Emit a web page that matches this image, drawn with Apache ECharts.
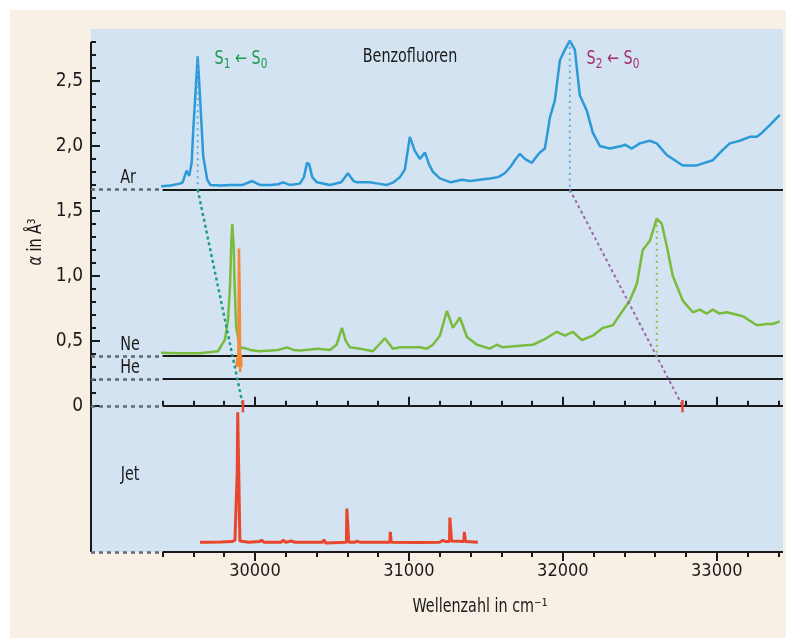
<!DOCTYPE html>
<html>
<head>
<meta charset="utf-8">
<script src="https://cdn.jsdelivr.net/npm/echarts@6/dist/echarts.min.js"></script>
<style>
  html, body { margin: 0; padding: 0; background: #ffffff; }
  #bg { position: absolute; left: 10px; top: 10px; width: 776px; height: 628px; background: #f9f0e5; }
  #chart { position: absolute; left: 0; top: 0; width: 786px; height: 638px; }
</style>
</head>
<body>
<div id="bg"></div>
<div id="chart"></div>
<script>
// x range of the plot area (wavenumber, cm^-1) and where the drawn axes begin
var xMin = 28935, xMax = 33430, axisStart = 29400;
var yMin = -1.125, yMax = 2.9, yAxisTop = 2.8;

// tick values
var xTicks = [29400, 29600, 29800, 30000, 30200, 30400, 30600, 30800, 31000, 31200, 31400,
              31600, 31800, 32000, 32200, 32400, 32600, 32800, 33000, 33200, 33400];
var xLabels = [30000, 31000, 32000, 33000];
var yTicks = [0, 0.1, 0.2, 0.3, 0.4, 0.5, 0.6, 0.7, 0.8, 0.9, 1, 1.1, 1.2, 1.3, 1.4, 1.5,
              1.6, 1.7, 1.8, 1.9, 2, 2.1, 2.2, 2.3, 2.4, 2.5, 2.6, 2.7, 2.8];
var yLabels = [0, 0.5, 1, 1.5, 2, 2.5];

// baselines: Ar, Ne, He, jet zero line, bottom line
var levels = [1.665, 0.382, 0.205, 0, -1.125];

// Ar matrix spectrum
var arSpectrum = [[29390,1.69],[29450,1.695],[29513,1.71],[29530,1.72],[29556,1.81],[29573,1.77],
  [29589,1.87],[29599,2.12],[29628,2.69],[29643,2.38],[29664,1.92],[29690,1.74],[29710,1.70],
  [29780,1.695],[29838,1.70],[29920,1.70],[29981,1.73],[30032,1.70],[30100,1.70],[30150,1.705],
  [30182,1.72],[30227,1.70],[30292,1.71],[30318,1.76],[30338,1.87],[30352,1.86],[30372,1.76],
  [30403,1.72],[30487,1.70],[30560,1.72],[30604,1.79],[30640,1.73],[30662,1.72],[30747,1.72],
  [30800,1.71],[30857,1.70],[30900,1.72],[30942,1.76],[30974,1.82],[31006,2.07],[31039,1.96],
  [31071,1.90],[31104,1.95],[31130,1.86],[31156,1.80],[31201,1.75],[31273,1.72],[31344,1.74],
  [31396,1.73],[31460,1.74],[31526,1.75],[31580,1.76],[31623,1.79],[31660,1.84],[31688,1.89],
  [31721,1.94],[31753,1.90],[31799,1.87],[31830,1.92],[31851,1.95],[31883,1.98],[31900,2.10],
  [31916,2.22],[31948,2.35],[31981,2.66],[32013,2.74],[32045,2.81],[32078,2.74],[32110,2.39],
  [32156,2.27],[32195,2.10],[32240,2.00],[32305,1.98],[32383,2.00],[32403,2.01],[32448,1.98],
  [32500,2.02],[32565,2.04],[32610,2.02],[32675,1.93],[32727,1.89],[32779,1.85],[32870,1.85],
  [32974,1.89],[33039,1.97],[33084,2.02],[33149,2.04],[33214,2.07],[33260,2.07],[33292,2.10],
  [33344,2.16],[33409,2.24]];

// Ne matrix spectrum
var neSpectrum = [[29390,0.408],[29500,0.405],[29643,0.405],[29760,0.42],[29805,0.51],[29825,0.66],
  [29838,0.92],[29846,1.25],[29853,1.40],[29862,1.22],[29866,1.0],[29878,0.6],[29903,0.45],
  [29948,0.44],[29968,0.43],[30032,0.42],[30150,0.43],[30208,0.45],[30250,0.43],[30292,0.425],
  [30409,0.44],[30487,0.43],[30530,0.47],[30565,0.60],[30590,0.50],[30617,0.45],[30682,0.44],
  [30766,0.42],[30844,0.52],[30896,0.44],[30942,0.45],[31071,0.45],[31117,0.44],[31156,0.47],
  [31201,0.54],[31247,0.73],[31286,0.60],[31331,0.68],[31377,0.53],[31442,0.47],[31526,0.44],
  [31571,0.47],[31610,0.45],[31701,0.46],[31805,0.47],[31870,0.505],[31961,0.57],[32013,0.54],
  [32065,0.57],[32123,0.505],[32195,0.54],[32260,0.60],[32325,0.62],[32370,0.70],[32435,0.81],
  [32481,0.94],[32519,1.20],[32565,1.27],[32610,1.44],[32643,1.40],[32675,1.23],[32714,1.00],
  [32779,0.81],[32844,0.72],[32890,0.74],[32935,0.71],[32974,0.74],[33019,0.71],[33065,0.72],
  [33169,0.69],[33260,0.62],[33325,0.63],[33364,0.63],[33409,0.65]];

// He droplet spectrum
var heSpectrum = [[29880,0.30],[29886,0.38],[29892,0.30],[29896,1.21],[29900,0.95],[29904,0.26],
  [29908,0.40],[29912,0.30]];

// jet spectrum (drawn below the zero line)
var jetSpectrum = [[29643,-1.05],[29700,-1.05],[29780,-1.048],[29850,-1.045],[29870,-1.035],
  [29881,-1.04],[29885,-0.5],[29888,-0.05],[29892,-0.04],[29896,-0.6],[29902,-1.04],[29960,-1.05],
  [30030,-1.045],[30043,-1.035],[30060,-1.05],[30170,-1.05],[30183,-1.035],[30200,-1.05],
  [30235,-1.04],[30245,-1.03],[30260,-1.05],[30440,-1.05],[30448,-1.03],[30460,-1.055],
  [30594,-1.05],[30597,-0.79],[30606,-0.79],[30609,-1.05],[30650,-1.05],[30664,-1.04],
  [30680,-1.05],[30705,-1.05],[30714,-1.04],[30725,-1.05],[30877,-1.05],[30879,-0.97],
  [30883,-0.97],[30885,-1.05],[31060,-1.052],[31200,-1.05],[31221,-1.035],[31240,-1.045],
  [31264,-1.045],[31266,-0.86],[31274,-0.86],[31277,-1.04],[31357,-1.045],[31360,-0.97],
  [31365,-0.97],[31368,-1.045],[31448,-1.05]];

// origin peaks (S1 and S2) and their connections to the jet
var s1Link = [[29628,1.665],[29922,0]];
var s2Link = [[32045,1.665],[32777,0]];
var arS1Drop = [[29628,2.69],[29628,1.64]];
var arS2Drop = [[32045,2.81],[32045,1.63]];
var neS2Drop = [[32610,1.44],[32610,0.37]];
var jetMarks = [[[29922,0.045],[29922,-0.05]],[[32777,0.045],[32777,-0.05]]];

var FONT = "'Liberation Sans Narrow', 'DejaVu Sans Condensed', 'Liberation Sans', sans-serif";
var myChart = echarts.init(document.getElementById('chart'), null, {renderer: 'canvas'});

function seg(a, b) { return [{coord: a}, {coord: b}]; }

var solidLines = [], dottedLines = [];
levels.forEach(function (lv) {
    dottedLines.push(seg([xMin, lv], [axisStart, lv]));
    solidLines.push(seg([axisStart, lv], [xMax, lv]));
});
solidLines.push(seg([xMin, yMin], [xMin, yAxisTop]));  // y axis line

function xAxisDef(atZero, values, len, labels) {
    return {
        type: 'value', min: xMin, max: xMax, position: 'bottom',
        axisLine: {show: false, onZero: atZero},
        splitLine: {show: false},
        axisTick: {show: true, inside: atZero, length: len, customValues: values,
                   lineStyle: {color: '#1a1a1a', width: 2}},
        axisLabel: labels ? {show: true, customValues: xLabels, margin: 10, color: '#1a1a1a',
                   fontFamily: FONT, fontSize: 18,
                   formatter: function (v) { return String(v); }} : {show: false}
    };
}
function yAxisDef(values, len, labels) {
    return {
        type: 'value', min: yMin, max: yMax, position: 'left',
        axisLine: {show: false, onZero: false},
        splitLine: {show: false},
        axisTick: {show: true, inside: true, length: len, customValues: values,
                   lineStyle: {color: '#1a1a1a', width: 2}},
        axisLabel: labels ? {show: true, customValues: yLabels, margin: 8, color: '#1a1a1a',
                   fontFamily: FONT, fontSize: 19,
                   formatter: function (v) { return v === 0 ? '0' : v.toFixed(1).replace('.', ','); }}
                 : {show: false}
    };
}

function lineSeries(data, color, width, extra) {
    var s = {type: 'line', data: data, symbol: 'none', silent: true, clip: false,
             lineStyle: {color: color, width: width}, z: 5};
    if (extra) for (var k in extra) s[k] = extra[k];
    return s;
}

// free text, squeezed horizontally to look like the narrow original typeface
function label(x, y, text, color, size, extra) {
    var t = {type: 'text', x: x, y: y, scaleX: 0.84,
             style: {text: text, fill: color, font: size + 'px ' + FONT, align: 'center', verticalAlign: 'middle'}};
    if (extra) for (var k in extra) t[k] = extra[k];
    return t;
}
function transition(x, y, n, color) {
    var rich = {
        s: {fontFamily: FONT, fontSize: 19, lineHeight: 24, fill: color, verticalAlign: 'middle'},
        b: {fontFamily: FONT, fontSize: 14, lineHeight: 14, fill: color, verticalAlign: 'bottom'}
    };
    return {type: 'text', x: x, y: y, scaleX: 0.84,
            style: {text: '{s|S}{b|' + n + '}{s| \u2190 S}{b|0}', rich: rich, fill: color,
                    align: 'center', verticalAlign: 'middle'}};
}

var option = {
    animation: false,
    backgroundColor: 'transparent',
    grid: {left: 91, right: 3, top: 29, bottom: 86, show: true,
           backgroundColor: '#d3e3f2', borderWidth: 0},
    xAxis: [
        xAxisDef(false, xTicks, 5, true),
        xAxisDef(false, xLabels, 9, false),
        xAxisDef(true, xTicks, 5, false),
        xAxisDef(true, xLabels, 9, false)
    ],
    yAxis: [
        yAxisDef(yTicks, 5, true),
        yAxisDef(yLabels, 9, false)
    ],
    graphic: [
        label(410, 57, 'Benzofluoren', '#1a1a1a', 19),
        transition(241, 59, '1', '#1f9a4e'),
        transition(613, 59, '2', '#a3306f'),
        {type: 'text', x: 36, y: 242, rotation: Math.PI / 2, scaleX: 0.84,
            style: {text: '{i|\u03b1} in \u00c5\u00b3', fill: '#1a1a1a', font: '19px ' + FONT,
                align: 'center', verticalAlign: 'middle',
                rich: {i: {fontStyle: 'italic', fontFamily: FONT, fontSize: 19, fill: '#1a1a1a'}}}},
        label(480, 607, 'Wellenzahl in cm\u207b\u00b9', '#1a1a1a', 19),
        label(128, 178, 'Ar', '#1a1a1a', 19),
        label(130, 345, 'Ne', '#1a1a1a', 19),
        label(130, 368, 'He', '#1a1a1a', 19),
        label(130, 475, 'Jet', '#1a1a1a', 19)
    ],
    series: [
        // baselines and y axis line (solid) plus dotted extensions to the y axis
        {type: 'line', data: [], silent: true, clip: false, z: 4,
         markLine: {silent: true, symbol: 'none', animation: false, label: {show: false},
                    emphasis: {disabled: true},
                    lineStyle: {color: '#1a1a1a', width: 2, type: 'solid'}, data: solidLines}},
        {type: 'line', data: [], silent: true, clip: false, z: 4,
         markLine: {silent: true, symbol: 'none', animation: false, label: {show: false},
                    emphasis: {disabled: true},
                    lineStyle: {color: '#5d6c7b', width: 2.5, type: [4, 4]}, data: dottedLines}},
        // spectra
        lineSeries(arSpectrum, '#2b9ad7', 2.5),
        lineSeries(neSpectrum, '#79bb3c', 2.5),
        lineSeries(heSpectrum, '#f28a38', 2.5),
        lineSeries(jetSpectrum, '#e8472e', 3),
        // connection lines between origins
        lineSeries(s1Link, '#1e9c88', 2.5, {lineStyle: {color: '#1e9c88', width: 2.5, type: [3, 3]}}),
        lineSeries(s2Link, '#9a68a8', 2, {lineStyle: {color: '#9a68a8', width: 2, type: [3, 3]}}),
        lineSeries(arS1Drop, '#5aaee3', 2, {lineStyle: {color: '#5aaee3', width: 2, type: [2, 4]}}),
        lineSeries(arS2Drop, '#5aaee3', 2, {lineStyle: {color: '#5aaee3', width: 2, type: [2, 4]}}),
        lineSeries(neS2Drop, '#86c24a', 2, {lineStyle: {color: '#86c24a', width: 2, type: [2, 4]}}),
        lineSeries(jetMarks[0], '#e8472e', 2.5),
        lineSeries(jetMarks[1], '#e8472e', 2.5)
    ]
};

myChart.setOption(option);
window.addEventListener('resize', myChart.resize);
</script>
</body>
</html>
